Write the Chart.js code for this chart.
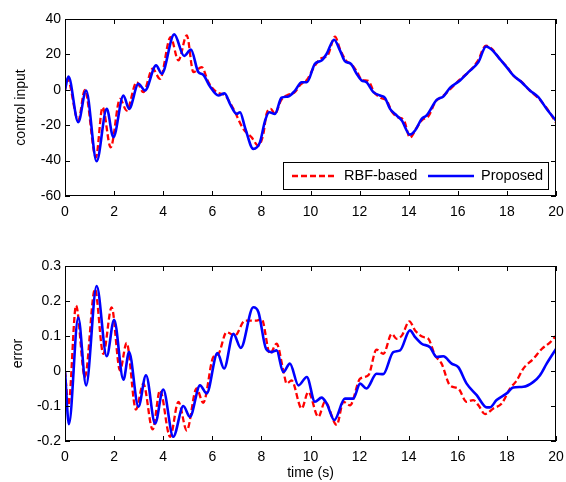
<!DOCTYPE html>
<html>
<head>
<meta charset="utf-8">
<script src="https://cdn.jsdelivr.net/npm/chart.js@4.4.1/dist/chart.umd.min.js"></script>
<style>
  html, body { margin: 0; padding: 0; background: #fff; }
  #wrap { position: relative; width: 566px; height: 482px; }
  .panel { position: absolute; left: 0; width: 566px; }
</style>
</head>
<body>
<div id="wrap">
  <div class="panel" style="top:0;height:230px"><canvas id="inputChart"></canvas></div>
  <div class="panel" style="top:230px;height:252px"><canvas id="errorChart"></canvas></div>
</div>
<script>
'use strict';

// control input, RBF-based
const tInputRbf = [0, 0.1, 0.54, 0.81, 1.26, 1.53, 1.86, 2.24, 2.51, 2.92,
  3.19, 3.57, 3.87, 4.30, 4.62, 4.96, 5.23, 5.57, 5.84, 6.18,
  6.52, 6.86, 7.26, 7.6, 7.87, 8.08, 8.21, 8.38, 8.55, 8.8,
  9.05, 9.35, 9.6, 9.85, 10.15, 10.4, 10.7, 11.0, 11.2, 11.45,
  11.7, 11.9, 12.1, 12.35, 12.6, 12.85, 13.1, 13.3, 13.55, 13.8,
  14.05, 14.3, 14.55, 14.8, 15.1, 15.4, 15.7, 16.1, 16.4, 16.8,
  17.15, 17.4, 17.7, 18.0, 18.3, 18.6, 18.9, 19.3, 19.6, 20];
const inputRbf = [0, 6.2, -17.4, 0, -38.1, -9.8, -32.5, -5.1, -11.7, 4.3,
  -1.3, 11.9, 6.2, 29.8, 16.6, 30.8, 10.0, 12.8, 4.3, -1.3,
  -3.2, -10.8, -22.1, -26.8, -31.5, -24.9, -13.6, -10.8, -13.6, -6,
  -3, -1.5, 3, 5.5, 13, 17.5, 19.5, 30, 23, 16.5,
  14, 10, 5.5, 5, -1.5, -4.5, -6, -12, -15.5, -17,
  -27, -22, -17, -15, -6.5, -3.5, 0.5, 6, 9.5, 16,
  25, 23, 17.5, 13, 7.5, 4.5, 0, -5, -10, -18.5];

// control input, Proposed
const tInputProp = [0, 0.14, 0.54, 0.86, 1.29, 1.70, 1.97, 2.38, 2.61, 2.99,
  3.26, 3.71, 3.94, 4.45, 4.85, 5.13, 5.43, 5.63, 5.9, 6.25,
  6.5, 6.72, 6.99, 7.13, 7.33, 7.67, 7.94, 8.15, 8.32, 8.55,
  8.82, 9.1, 9.37, 9.64, 9.85, 10.18, 10.45, 10.66, 10.96, 11.2,
  11.4, 11.64, 11.88, 12.08, 12.28, 12.56, 12.83, 13.03, 13.24, 13.51,
  13.72, 14.05, 14.26, 14.53, 14.73, 15.14, 15.41, 15.68, 16.09, 16.43,
  16.84, 17.15, 17.38, 17.65, 17.99, 18.26, 18.6, 18.94, 19.28, 19.62,
  20];
const inputProp = [0, 7.5, -18.3, -0.4, -40.4, -10.8, -26.8, -3.2, -10.8, 3.4,
  -0.4, 13.8, 9.1, 31.3, 19.1, 22.7, 10, 8.5, 2, -3.2,
  -2, -7.9, -13.6, -12.7, -21.2, -33.4, -29.7, -17.4, -12.7, -13.6,
  -4.5, -3.8, -0.4, 4.3, 4.3, 14.7, 16.6, 20.4, 28.3, 22.3,
  16.2, 14.7, 9.1, 5.3, 4.3, -1.3, -3.2, -4.5, -10.8, -14.5,
  -17.4, -25.3, -23.0, -16.4, -14.5, -5.7, -3.8, 1.1, 5.3, 10.0,
  15.7, 24.5, 22.7, 18.5, 12.8, 8.1, 4.3, -0.4, -4.2, -10.8,
  -17.4];

// error, RBF-based
const tErrorRbf = [0, 0.14, 0.45, 0.81, 1.22, 1.56, 1.90, 2.24, 2.51, 2.89,
  3.19, 3.57, 3.87, 4.28, 4.62, 4.96, 5.36, 5.63, 6.04, 6.25,
  6.58, 6.92, 7.33, 7.81, 8.01, 8.35, 8.62, 8.89, 9.03, 9.23,
  9.64, 9.91, 10.32, 10.59, 11.07, 11.34, 11.61, 12.02, 12.36, 12.69,
  12.97, 13.31, 13.51, 13.72, 14.03, 14.26, 14.6, 14.8, 15.07, 15.34,
  15.68, 16.02, 16.36, 16.63, 16.84, 17.11, 17.45, 17.79, 18.13, 18.4,
  18.67, 19.08, 19.42, 19.76, 20];
const errorRbf = [0, -0.098, 0.187, -0.017, 0.234, 0.049, 0.182, 0.002, 0.080, -0.110,
  -0.036, -0.167, -0.055, -0.188, -0.088, -0.170, -0.050, -0.091, 0.040, 0.049,
  0.111, 0.101, 0.144, 0.144, 0.149, 0.049, 0.078, 0.002, -0.036, -0.027,
  -0.107, -0.060, -0.131, -0.088, -0.154, -0.088, -0.098, -0.022, -0.012, 0.061,
  0.049, 0.106, 0.092, 0.101, 0.142, 0.116, 0.097, 0.092, 0.045, 0.021,
  -0.041, -0.050, -0.088, -0.083, -0.098, -0.123, -0.107, -0.093, -0.050, -0.027,
  0.007, 0.035, 0.063, 0.082, 0.101];

// error, Proposed
const tErrorProp = [0, 0.16, 0.54, 0.86, 1.29, 1.70, 2.0, 2.38, 2.61, 2.99,
  3.30, 3.67, 4.0, 4.41, 4.82, 5.09, 5.50, 5.77, 6.21, 6.48,
  6.86, 7.16, 7.67, 7.88, 8.19, 8.42, 8.62, 8.89, 9.16, 9.51,
  9.85, 10.18, 10.45, 10.66, 10.97, 11.4, 11.74, 12.02, 12.28, 12.69,
  12.96, 13.37, 13.65, 14.05, 14.26, 14.53, 14.87, 15.14, 15.41, 15.75,
  16.02, 16.36, 16.77, 17.18, 17.31, 17.58, 17.99, 18.26, 18.67, 19.08,
  19.35, 19.62, 20];
const errorProp = [0, -0.152, 0.153, -0.041, 0.243, 0.042, 0.146, -0.025, 0.054, -0.102,
  -0.012, -0.150, -0.053, -0.188, -0.100, -0.131, -0.041, -0.064, 0.051, 0.007,
  0.106, 0.066, 0.182, 0.168, 0.063, 0.054, 0.059, -0.003, 0.021, -0.041,
  -0.017, -0.088, -0.076, -0.093, -0.140, -0.079, -0.079, -0.036, -0.050, -0.008,
  -0.009, 0.054, 0.059, 0.116, 0.097, 0.078, 0.068, 0.040, 0.042, 0.021,
  0.011, -0.036, -0.069, -0.104, -0.104, -0.083, -0.064, -0.047, -0.045, -0.031,
  -0.012, 0.021, 0.063];

const seriesLabels = ['RBF-based', 'Proposed'];

const fontFamily = '"Liberation Sans", Arial, Helvetica, sans-serif';
Chart.defaults.font.family = fontFamily;
Chart.defaults.font.size = 14;
Chart.defaults.color = '#000';

const toPoints = (ts, vs) => ts.map((t, i) => ({ x: t, y: vs[i] }));

function lineSets(tRbf, vRbf, tProp, vProp) {
  return [
    {
      label: seriesLabels[0],
      data: toPoints(tRbf, vRbf),
      borderColor: '#ff0000',
      borderWidth: 2.3,
      borderDash: [6, 3],
      pointRadius: 0,
      cubicInterpolationMode: 'monotone',
      order: 1
    },
    {
      label: seriesLabels[1],
      data: toPoints(tProp, vProp),
      borderColor: '#0000ff',
      borderWidth: 2.6,
      pointRadius: 0,
      cubicInterpolationMode: 'monotone',
      order: 0
    }
  ];
}

// MATLAB-style box with inward ticks on every side
const boxTicks = {
  id: 'boxTicks',
  afterDraw(chart) {
    const { ctx, chartArea: a, scales: { x, y } } = chart;
    const len = 5;
    ctx.save();
    ctx.strokeStyle = '#000';
    ctx.lineWidth = 1;
    ctx.beginPath();
    x.ticks.forEach(t => {
      const px = Math.round(x.getPixelForValue(t.value)) + 0.5;
      ctx.moveTo(px, a.bottom); ctx.lineTo(px, a.bottom - len);
      ctx.moveTo(px, a.top); ctx.lineTo(px, a.top + len);
    });
    y.ticks.forEach(t => {
      const py = Math.round(y.getPixelForValue(t.value)) + 0.5;
      ctx.moveTo(a.left, py); ctx.lineTo(a.left + len, py);
      ctx.moveTo(a.right, py); ctx.lineTo(a.right - len, py);
    });
    ctx.stroke();
    ctx.strokeRect(a.left + 0.5, a.top + 0.5, a.right - a.left - 1, a.bottom - a.top - 1);
    ctx.restore();
  }
};

// legend box sitting inside the lower right of the plot
const insideLegend = {
  id: 'insideLegend',
  afterDatasetsDraw(chart) {
    const { ctx, chartArea: a } = chart;
    const w = 265, h = 27;
    const left = a.right - 8 - w;
    const top = a.bottom - 7 - h;
    const slots = [[9, 52, 61], [145, 191, 198]];
    ctx.save();
    ctx.fillStyle = '#fff';
    ctx.fillRect(left, top, w, h);
    ctx.strokeStyle = '#000';
    ctx.lineWidth = 1;
    ctx.strokeRect(left + 0.5, top + 0.5, w, h);
    const midY = top + h / 2 + 0.5;
    chart.data.datasets.forEach((ds, i) => {
      const [x0, x1, tx] = slots[i];
      ctx.beginPath();
      ctx.setLineDash(ds.borderDash || []);
      ctx.strokeStyle = ds.borderColor;
      ctx.lineWidth = ds.borderWidth;
      ctx.moveTo(left + x0, midY);
      ctx.lineTo(left + x1, midY);
      ctx.stroke();
      ctx.setLineDash([]);
      ctx.fillStyle = '#000';
      ctx.font = '14.5px ' + fontFamily;
      ctx.textBaseline = 'middle';
      ctx.textAlign = 'left';
      ctx.fillText(ds.label, left + tx, midY);
    });
    ctx.restore();
  }
};

function xAxis(height, showTitle) {
  return {
    type: 'linear',
    min: 0,
    max: 20,
    grid: { display: false, drawTicks: false },
    border: { display: false },
    ticks: { stepSize: 2, padding: 8, maxRotation: 0 },
    title: { display: showTitle, text: 'time (s)', padding: { top: 0, bottom: 0 } },
    afterFit: scale => {
      scale.height = height;
      scale.paddingLeft = 0;
      scale.paddingRight = 0;
    }
  };
}

function yAxis(min, max, step, titleText, titlePad, fmt) {
  return {
    min: min,
    max: max,
    grid: { display: false, drawTicks: false },
    border: { display: false },
    ticks: { stepSize: step, padding: 4, callback: fmt },
    title: { display: true, text: titleText, padding: { top: titlePad, bottom: 0 } },
    afterFit: scale => {
      scale.width = 65;
      scale.paddingTop = 0;
      scale.paddingBottom = 0;
    }
  };
}

const inputChart = new Chart(document.getElementById('inputChart'), {
  type: 'line',
  data: { datasets: lineSets(tInputRbf, inputRbf, tInputProp, inputProp) },
  options: {
    responsive: true,
    maintainAspectRatio: false,
    animation: false,
    layout: { padding: { top: 19, right: 10, left: 0, bottom: 0 } },
    plugins: { legend: { display: false }, tooltip: { enabled: false } },
    scales: {
      x: xAxis(34, false),
      y: yAxis(-60, 40, 20, 'control input', 13, v => String(Math.round(v)))
    }
  },
  plugins: [insideLegend, boxTicks]
});

const errorChart = new Chart(document.getElementById('errorChart'), {
  type: 'line',
  data: { datasets: lineSets(tErrorRbf, errorRbf, tErrorProp, errorProp) },
  options: {
    responsive: true,
    maintainAspectRatio: false,
    animation: false,
    layout: { padding: { top: 36, right: 10, left: 0, bottom: 0 } },
    plugins: { legend: { display: false }, tooltip: { enabled: false } },
    scales: {
      x: xAxis(41, true),
      y: yAxis(-0.2, 0.3, 0.1, 'error', 10, v => String(Math.round(v * 10) / 10))
    }
  },
  plugins: [boxTicks]
});
</script>
</body>
</html>
